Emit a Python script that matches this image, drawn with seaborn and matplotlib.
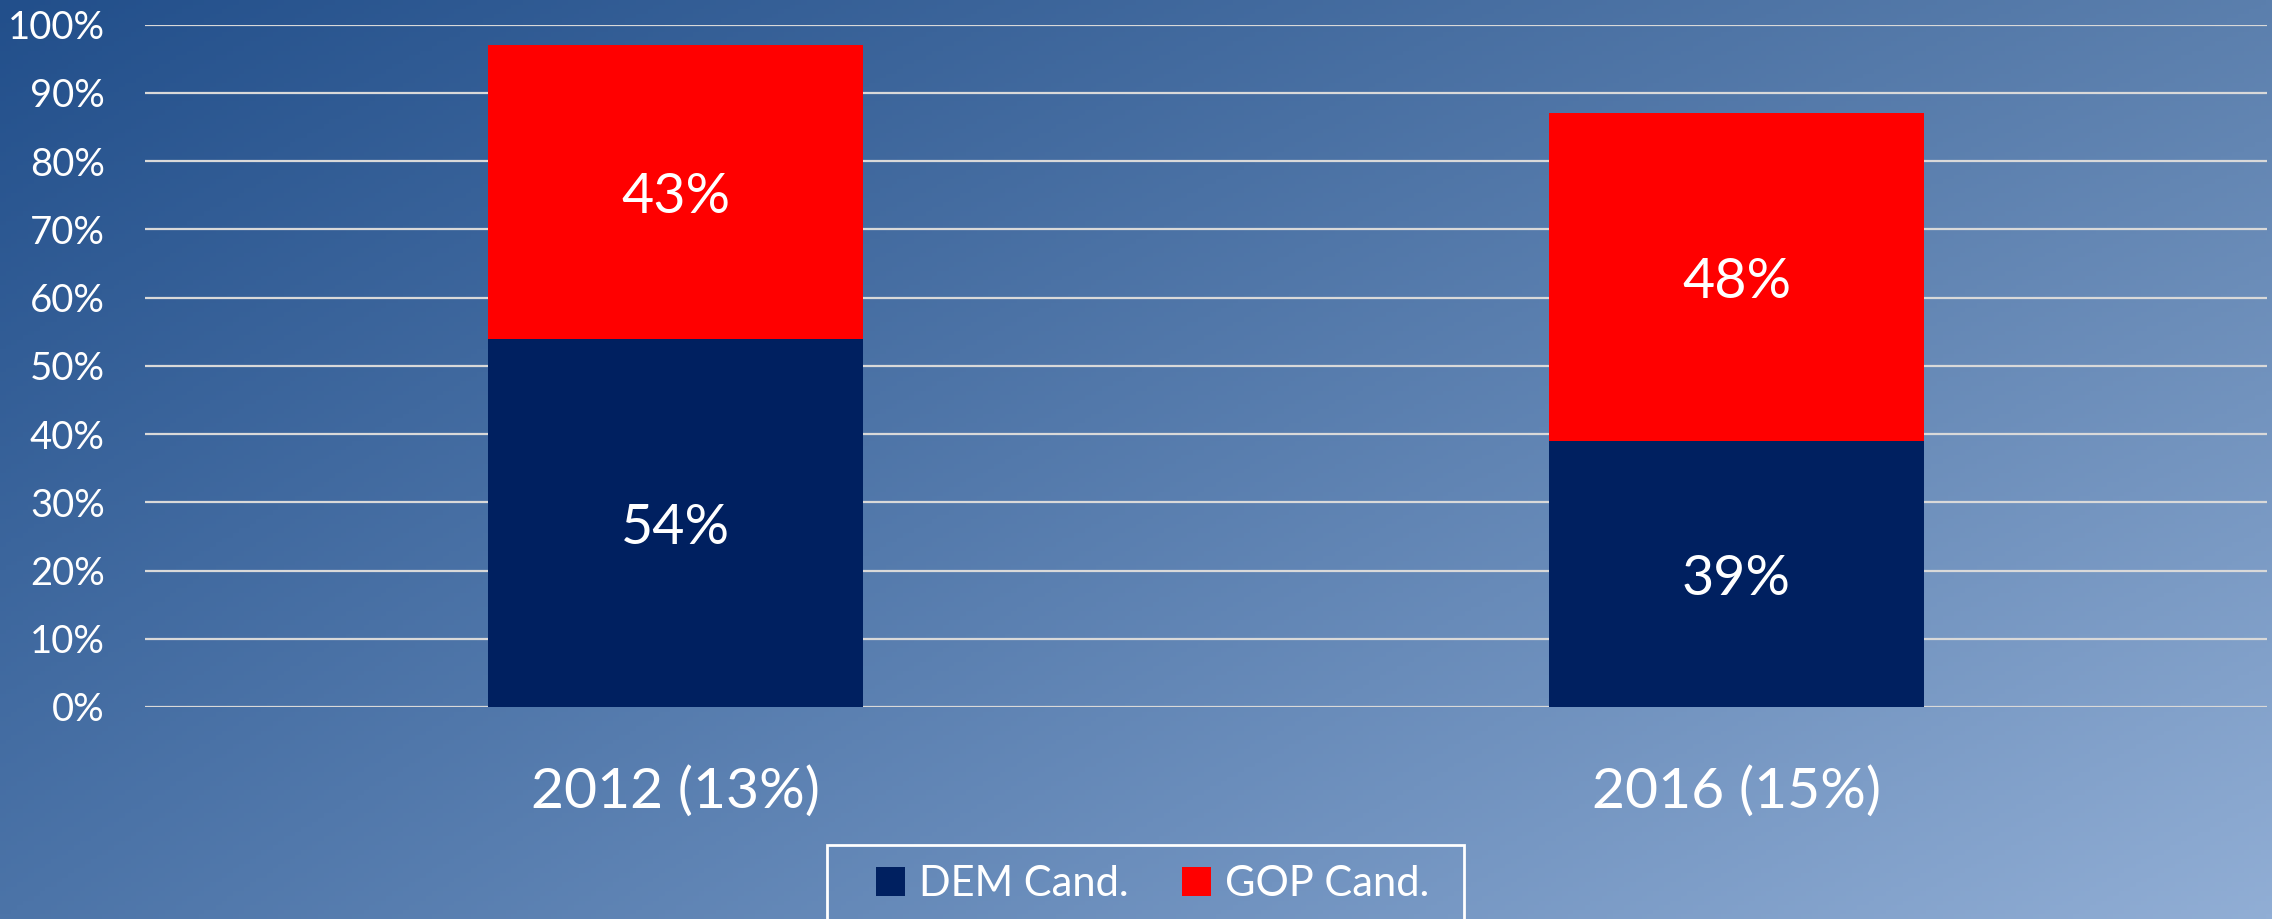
import numpy as np
import pandas as pd
import matplotlib
matplotlib.use("Agg")
import matplotlib.pyplot as plt
from matplotlib.patches import Patch, Rectangle
from matplotlib.transforms import offset_copy
import seaborn as sns

# ---- dados ----
years = ["2012 (13%)", "2016 (15%)"]
dem = [54, 39]
gop = [43, 48]
series_names = ["DEM Cand.", "GOP Cand."]
yticks = list(range(0, 101, 10))

DEM_COLOR = "#002060"
GOP_COLOR = "#FF0000"

sns.set_theme(style="white")
plt.rcParams["font.family"] = ["Lato", "DejaVu Sans"]

df = pd.DataFrame({"year": years, "dem": dem, "gop": gop})
df["total"] = df["dem"] + df["gop"]

fig = plt.figure(figsize=(22.72, 9.19), dpi=100)

# fundo em gradiente diagonal (canto sup. esq. escuro -> inf. dir. claro)
tl = np.array([34, 79, 139]) / 255
tr = np.array([91, 127, 173]) / 255
bl = np.array([76, 116, 168]) / 255
br = np.array([145, 174, 213]) / 255
gx = np.linspace(0, 1, 400)[None, :, None]
gy = np.linspace(0, 1, 200)[:, None, None]
grad = (tl * (1 - gx) * (1 - gy) + tr * gx * (1 - gy)
        + bl * (1 - gx) * gy + br * gx * gy)
bg = fig.add_axes([0, 0, 1, 1], zorder=-10)
bg.imshow(np.clip(grad, 0, 1), aspect="auto", extent=(0, 1, 0, 1))
bg.axis("off")

ax = fig.add_axes([0.0638, 0.2307, 0.934, 0.7425])
ax.set_facecolor("none")

# barras empilhadas: total (GOP por cima) e DEM na base
sns.barplot(data=df, x="year", y="total", color=GOP_COLOR, saturation=1,
            width=0.354, errorbar=None, linewidth=0, ax=ax, zorder=3)
sns.barplot(data=df, x="year", y="dem", color=DEM_COLOR, saturation=1,
            width=0.354, errorbar=None, linewidth=0, ax=ax, zorder=4)

# rótulos centrados em cada segmento (leve deslocamento p/ baixo)
lbl_tr = offset_copy(ax.transData, fig=fig, x=0, y=-4, units="points")
for i, row in df.iterrows():
    ax.text(i, row["dem"] / 2, f"{row['dem']}%", ha="center", va="center",
            color="white", fontsize=40, zorder=5, transform=lbl_tr)
    ax.text(i, row["dem"] + row["gop"] / 2, f"{row['gop']}%", ha="center",
            va="center", color="white", fontsize=40, zorder=5, transform=lbl_tr)

ax.set_xlim(-0.5, 1.5)
ax.set_ylim(0, 100)
ax.set_yticks(yticks)
ax.set_yticklabels([f"{v}%" for v in yticks])
ax.yaxis.grid(True, color="#D9D9D9", linewidth=1.6)
ax.xaxis.grid(False)
ax.set_axisbelow(True)
for s in ax.spines.values():
    s.set_visible(False)
ax.set_xlabel("")
ax.set_ylabel("")
ax.tick_params(axis="y", length=0, pad=29, labelsize=27.5, labelcolor="white")
ax.tick_params(axis="x", length=0, pad=42, labelsize=41, labelcolor="white")

# legenda
handles = [Patch(facecolor=DEM_COLOR, edgecolor="none"),
           Patch(facecolor=GOP_COLOR, edgecolor="none")]
fig.legend(handles, series_names, ncol=2, loc="center",
           bbox_to_anchor=(1153 / 2272, 1 - 884 / 919),
           bbox_transform=fig.transFigure, frameon=False, fontsize=30,
           handlelength=0.68, handleheight=0.68, handletextpad=0.35,
           columnspacing=1.28, labelcolor="white")
fig.add_artist(Rectangle((827 / 2272, -0.02), (1464 - 827) / 2272,
                         1 - 845 / 919 + 0.02, transform=fig.transFigure,
                         fill=False, edgecolor="white", linewidth=2))

fig.savefig("out.png", dpi=100)
